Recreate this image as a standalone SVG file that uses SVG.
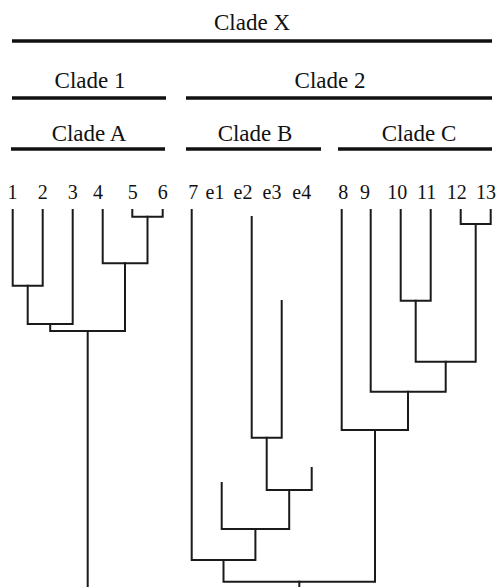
<svg xmlns="http://www.w3.org/2000/svg" width="502" height="587" viewBox="0 0 502 587">
<style>
.clade{font-family:"Liberation Serif",serif;font-size:23px;fill:#111;text-anchor:middle}
.leaf{font-family:"Liberation Serif",serif;font-size:20px;fill:#111;text-anchor:middle}
.bar{stroke:#111;stroke-width:3.5;fill:none}
.edge{stroke:#1a1a1a;stroke-width:2;fill:none;stroke-linejoin:miter;stroke-linecap:square}
</style>
<rect x="0" y="0" width="502" height="587" fill="#ffffff"/>
<g id="clade-x"><text class="clade" x="252" y="30">Clade X</text><line class="bar" x1="12" y1="41" x2="492" y2="41"/></g>
<g id="clade-1"><text class="clade" x="90" y="88">Clade 1</text><line class="bar" x1="12" y1="98" x2="166" y2="98"/></g>
<g id="clade-2"><text class="clade" x="330" y="88">Clade 2</text><line class="bar" x1="186" y1="98" x2="492" y2="98"/></g>
<g id="clade-a"><text class="clade" x="89" y="141">Clade A</text><line class="bar" x1="11" y1="149" x2="165" y2="149"/></g>
<g id="clade-b"><text class="clade" x="255" y="141">Clade B</text><line class="bar" x1="186" y1="149" x2="321" y2="149"/></g>
<g id="clade-c"><text class="clade" x="419" y="141">Clade C</text><line class="bar" x1="338" y1="149" x2="492" y2="149"/></g>
<g id="leaf-1"><text class="leaf" x="12.5" y="199">1</text></g>
<g id="leaf-2"><text class="leaf" x="42.7" y="199">2</text></g>
<g id="leaf-3"><text class="leaf" x="72.7" y="199">3</text></g>
<g id="leaf-4"><text class="leaf" x="98" y="199">4</text></g>
<g id="leaf-5"><text class="leaf" x="132.7" y="199">5</text></g>
<g id="leaf-6"><text class="leaf" x="162.7" y="199">6</text></g>
<g id="leaf-7"><text class="leaf" x="193.3" y="199">7</text></g>
<g id="leaf-e1"><text class="leaf" x="215" y="199">e1</text></g>
<g id="leaf-e2"><text class="leaf" x="243" y="199">e2</text></g>
<g id="leaf-e3"><text class="leaf" x="272" y="199">e3</text></g>
<g id="leaf-e4"><text class="leaf" x="301.7" y="199">e4</text></g>
<g id="leaf-8"><text class="leaf" x="343.3" y="199">8</text></g>
<g id="leaf-9"><text class="leaf" x="365" y="199">9</text></g>
<g id="leaf-10"><text class="leaf" x="397.3" y="199">10</text></g>
<g id="leaf-11"><text class="leaf" x="426.7" y="199">11</text></g>
<g id="leaf-12"><text class="leaf" x="456.7" y="199">12</text></g>
<g id="leaf-13"><text class="leaf" x="486" y="199">13</text></g>
<g id="connectors">
<path class="edge" d="M12.7 210 V285.7 H42.7 V210"/>
<path class="edge" d="M27.7 285.7 V324 H72.7 V210"/>
<path class="edge" d="M132.3 210 V216.7 H162.7 V210"/>
<path class="edge" d="M102.7 210 V263.3 H147.5 V216.7"/>
<path class="edge" d="M50.2 324 V331 H125 V263.3"/>
<path class="edge" d="M87.7 331 V590"/>
<path class="edge" d="M251.7 217 V437.7 H281.7 V301"/>
<path class="edge" d="M266.7 437.7 V490 H311.7 V468"/>
<path class="edge" d="M221.7 483 V529 H289.2 V490"/>
<path class="edge" d="M191.7 210 V560 H255.4 V529"/>
<path class="edge" d="M400.7 210 V300.7 H430.7 V210"/>
<path class="edge" d="M460.7 210 V224 H490.7 V210"/>
<path class="edge" d="M415.7 300.7 V361.7 H475.7 V224"/>
<path class="edge" d="M370.7 210 V391.7 H445.7 V361.7"/>
<path class="edge" d="M341.7 210 V430 H408 V391.7"/>
<path class="edge" d="M223.5 560 V581.7 H375 V430"/>
<path class="edge" d="M299.3 581.7 V590"/>
</g>
</svg>
